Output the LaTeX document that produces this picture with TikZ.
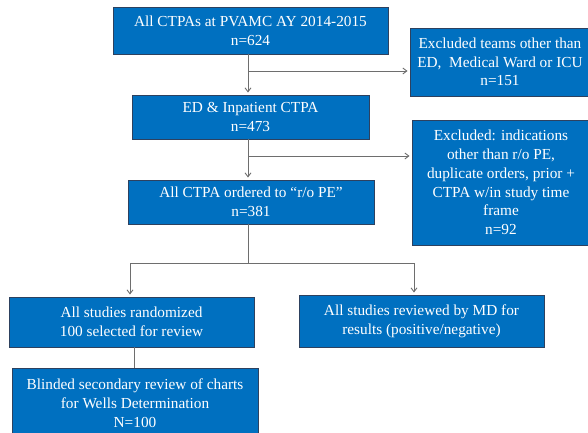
\documentclass[tikz,border=0pt]{standalone}
\usepackage{fontspec}
\setmainfont{Liberation Serif}
\usetikzlibrary{arrows.meta}
\definecolor{boxfill}{RGB}{0,112,192}
\definecolor{boxline}{RGB}{45,65,95}
\definecolor{conn}{RGB}{110,110,110}
\tikzset{
  box/.style={draw=boxline, line width=0.9pt, fill=boxfill, text=white, inner sep=0pt,
    align=center, font=\fontsize{15.3}{18.7}\selectfont},
  link/.style={draw=conn, line width=0.9pt},
  arr/.style={link, -{Straight Barb[length=4pt,width=6pt]}, shorten >=2pt}
}
\begin{document}
\begin{tikzpicture}[x=1pt,y=-1pt]
\useasboundingbox (0,0) rectangle (588,432);
\clip (0,0) rectangle (588,432);
\node[box, minimum width=275pt, minimum height=47pt] (b1) at (250.5,30.5) {All CTPAs at PVAMC AY 2014-2015\\n=624};
\node[box, minimum width=237pt, minimum height=44pt] (b2) at (250.5,117) {ED \& Inpatient CTPA\\n=473};
\node[box, minimum width=246pt, minimum height=44pt] (b3) at (251,202) {All CTPA ordered to “r/o PE”\\n=381};
\node[box, minimum width=180pt, minimum height=68pt] (e1) at (500,62) {Excluded teams other than\\ED,~ Medical Ward or ICU\\n=151};
\node[box, minimum width=178pt, minimum height=125pt] (e2) at (501,182.5) {Excluded: indications\\other than r/o PE,\\duplicate orders, prior +\\CTPA w/in study time\\frame\\n=92};
\node[box, minimum width=245pt, minimum height=50pt] (b4) at (131.5,322) {All studies randomized\\100 selected for review};
\node[box, minimum width=245pt, minimum height=52pt] (b5) at (421.5,321) {All studies reviewed by MD for\\results (positive/negative)};
\node[box, minimum width=246pt, minimum height=70pt] (b6) at (135,403) {Blinded secondary review of charts\\for Wells Determination\\N=100};
\coordinate (j1) at (248,71);
\coordinate (j2) at (248,156);
\coordinate (j3) at (248,263);
\coordinate (jl) at (130,263);
\coordinate (jr) at (414,263);
\draw[arr] (b1.south -| j1) -- (b2.north -| j1);
\draw[arr] (j1) -- (e1.west |- j1);
\draw[arr] (b2.south -| j2) -- (b3.north -| j2);
\draw[arr] (j2) -- (e2.west |- j2);
\draw[link] (b3.south -| j3) -- (j3);
\draw[link] (jl) -- (jr);
\draw[arr] (jl) -- (b4.north -| jl);
\draw[arr] (jr) -- (b5.north -| jr);
\draw[link] (b4.south -| 134,0) -- (b6.north -| 134,0);
\end{tikzpicture}
\end{document}
